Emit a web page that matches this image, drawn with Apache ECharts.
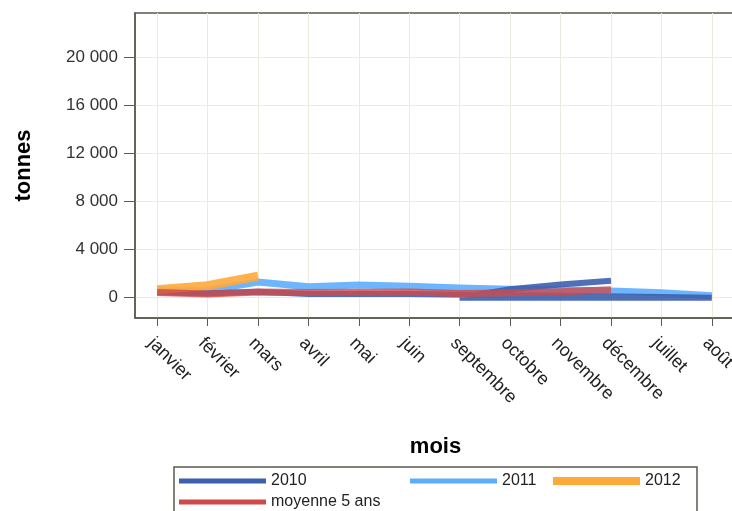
<!DOCTYPE html>
<html>
<head>
<meta charset="utf-8">
<script src="https://cdn.jsdelivr.net/npm/echarts@6/dist/echarts.min.js"></script>
<style>
  html, body { margin: 0; padding: 0; background: #fff; }
  #chart { width: 732px; height: 511px; }
</style>
</head>
<body>
<div id="chart"></div>
<script>
// catégories dans l'ordre de l'axe
const categories = ['janvier', 'février', 'mars', 'avril', 'mai', 'juin', 'septembre', 'octobre', 'novembre', 'décembre', 'juillet', 'août']
const yTicks = [0, 4000, 8000, 12000, 16000, 20000]

// 2010 (ordre calendaire, d'où le retour vers septembre)
const months2010 = ['janvier', 'février', 'mars', 'avril', 'mai', 'juin', 'juillet', 'août', 'septembre', 'octobre', 'novembre', 'décembre']
const values2010 = [400, 300, 450, 250, 250, 250, 0, -50, -50, 650, 1050, 1350]

// 2011
const months2011 = ['janvier', 'février', 'mars', 'avril', 'mai', 'juin', 'septembre', 'octobre', 'novembre', 'décembre', 'juillet', 'août']
const values2011 = [500, 550, 1250, 850, 1000, 900, 750, 650, 600, 500, 350, 100]

// 2012
const months2012 = ['janvier', 'février', 'mars']
const values2012 = [600, 950, 1750]

// moyenne 5 ans
const monthsMoy = ['janvier', 'février', 'mars', 'avril', 'mai', 'juin', 'septembre', 'octobre', 'novembre', 'décembre']
const valuesMoy = [370, 250, 420, 370, 400, 420, 300, 350, 450, 600]

const FONT = 'Liberation Sans, Arial, sans-serif'

function toPoints (months, values) {
  return months.map((m, i) => [categories.indexOf(m), values[i]])
}

function fmt (v) {
  return String(v).replace(/\B(?=(\d{3})+(?!\d))/g, ' ')
}

function legendItem (name, left, top, h) {
  return {
    data: [name],
    left: left,
    top: top,
    padding: 0,
    icon: 'rect',
    itemWidth: 87,
    itemHeight: h,
    selectedMode: false,
    textStyle: { fontFamily: FONT, fontSize: 16, color: '#222' }
  }
}

function lineSeries (name, points, color, width, opacity) {
  return {
    name: name,
    type: 'line',
    data: points,
    showSymbol: false,
    symbol: 'none',
    color: color,
    lineStyle: { width: width, color: color, opacity: opacity, cap: 'butt', join: 'miter' }
  }
}

const myChart = echarts.init(document.getElementById('chart'))

const option = {
  animation: false,
  backgroundColor: '#fff',
  grid: {
    left: 135,
    top: 13,
    right: -4,
    bottom: 193,
    outerBoundsMode: 'none',
    containLabel: false,
    show: true,
    borderColor: '#5a5a50',
    borderWidth: 1.5
  },
  xAxis: {
    type: 'value',
    min: -0.44,
    max: 11.48,
    name: 'mois',
    nameLocation: 'middle',
    nameGap: 118,
    nameTextStyle: { fontFamily: FONT, fontSize: 22, fontWeight: 'bold', color: '#000' },
    axisLine: { show: true, onZero: false, lineStyle: { color: '#5a5a50', width: 1.5 } },
    axisTick: { show: true, length: 8, customValues: categories.map((c, i) => i), lineStyle: { color: '#5a5a50' } },
    axisLabel: {
      customValues: categories.map((c, i) => i),
      formatter: v => categories[v],
      rotate: -45,
      verticalAlign: 'top',
      margin: 16,
      fontFamily: FONT,
      fontSize: 18,
      color: '#222'
    },
    splitLine: { show: true, lineStyle: { color: '#ecebdc', width: 1 } }
  },
  yAxis: {
    type: 'value',
    min: -1750,
    max: 23700,
    name: 'tonnes',
    nameLocation: 'middle',
    nameGap: 100,
    nameTextStyle: { fontFamily: FONT, fontSize: 22, fontWeight: 'bold', color: '#000' },
    axisLine: { show: true, onZero: false, lineStyle: { color: '#5a5a50', width: 1.5 } },
    axisTick: { show: true, length: 11, customValues: yTicks, lineStyle: { color: '#5a5a50' } },
    axisLabel: {
      customValues: yTicks,
      formatter: fmt,
      margin: 17,
      fontFamily: FONT,
      fontSize: 17,
      color: '#333'
    },
    splitLine: { show: true, lineStyle: { color: '#ecebdc', width: 1 } }
  },
  legend: [
    legendItem('2010', 179, 473, 5),
    legendItem('2011', 410, 473, 5),
    legendItem('2012', 553, 473, 8),
    legendItem('moyenne 5 ans', 179, 494, 5)
  ],
  graphic: [{
    type: 'rect',
    shape: { x: 174, y: 467, width: 523, height: 60 },
    style: { fill: 'none', stroke: '#5a5a50', lineWidth: 1.5 },
    silent: true
  }],
  series: [
    lineSeries('2011', toPoints(months2011, values2011), '#5dadff', 7, 0.9),
    lineSeries('2010', toPoints(months2010, values2010), '#3c5fae', 6, 0.9),
    lineSeries('2012', toPoints(months2012, values2012), '#ffa93a', 9, 0.9),
    lineSeries('moyenne 5 ans', toPoints(monthsMoy, valuesMoy), '#cf4a4a', 7, 0.8)
  ]
}

myChart.setOption(option)
</script>
</body>
</html>
